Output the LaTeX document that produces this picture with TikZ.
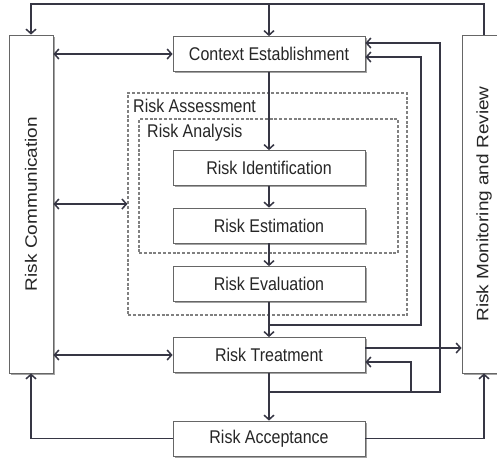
\documentclass[tikz,border=0pt]{standalone}
\usepackage{fontspec}
\setmainfont{Liberation Sans}
\usepackage{tikz}
\usetikzlibrary{arrows.meta, positioning, shadows, calc}
\usepackage{xcolor}
\definecolor{ink}{HTML}{363644}
\definecolor{frame}{HTML}{666666}
\definecolor{txt}{HTML}{262626}
\newcommand{\talltxt}[1]{\scalebox{1}[1.15]{#1}}
\newcommand{\sidetxt}[1]{\rotatebox{90}{\scalebox{1.15}[1]{#1}}}
\tikzset{
  box/.style={rectangle, draw=frame, line width=0.8pt, fill=white,
              minimum width=192pt, minimum height=35pt, inner sep=0pt,
              text=txt, font=\fontsize{16}{18}\selectfont,
              drop shadow={shadow xshift=1.6pt, shadow yshift=-1.6pt,
                           fill=black!45, opacity=0.8}},
  sidebox/.style={box, minimum width=44pt, minimum height=338pt,
                  font=\fontsize{16.5}{18}\selectfont},
  dashbox/.style={rectangle, draw=black!50, line width=1.1pt,
                  dash pattern=on 3pt off 1.8pt, inner sep=0pt},
  tag/.style={anchor=base west, inner sep=0pt, text=txt,
              font=\fontsize{16}{18}\selectfont},
  barb/.tip={Straight Barb[length=4.5pt, width=10pt, line width=1.5pt]},
  arr/.style={arrows={-barb}, line width=1.7pt, draw=ink},
  dblarr/.style={arrows={barb-barb}, line width=1.7pt, draw=ink},
}

\begin{document}
\begin{tikzpicture}[x=1pt, y=-1pt]   % pixel grid, y runs downwards

  \useasboundingbox (0,0) rectangle (497,459);

  %% -- dashed groups ---------------------------------------------------------
  \node[dashbox, minimum width=279pt, minimum height=222pt] (assess) at (267.5,204) {};
  \node[dashbox, minimum width=259pt, minimum height=134pt] (analysis) at (268.5,186) {};
  \node[tag] (assesstag)   at (133,112) {\talltxt{Risk Assessment}};
  \node[tag] (analysistag) at (147,137) {\talltxt{Risk Analysis}};

  %% -- side columns ----------------------------------------------------------
  \node[sidebox] (comm) at (31,204)  {\sidetxt{Risk Communication}};
  \node[sidebox] (mon)  at (484,204) {\sidetxt{Risk Monitoring and Review}};

  %% -- process steps ---------------------------------------------------------
  \node[box] (ctx)    at (269,54)    {\talltxt{Context Establishment}};
  \node[box] (ident)  at (269,168)   {\talltxt{Risk Identification}};
  \node[box] (estim)  at (269,225.5) {\talltxt{Risk Estimation}};
  \node[box] (evalu)  at (269,284)   {\talltxt{Risk Evaluation}};
  \node[box] (treat)  at (269,355)   {\talltxt{Risk Treatment}};
  \node[box] (accept) at (269,438.5) {\talltxt{Risk Acceptance}};

  %% -- junction points -------------------------------------------------------
  \coordinate (top) at (269,4);
  \coordinate (fb1) at (269,325);
  \coordinate (fb2) at (269,392);
  \coordinate (fb3) at (411,392);

  %% -- main flow -------------------------------------------------------------
  \draw[arr] (ctx)   -- (ident);
  \draw[arr] (ident) -- (estim);
  \draw[arr] (estim) -- (evalu);
  \draw[arr] (evalu) -- (treat);
  \draw[arr] (treat) -- (accept);

  %% -- communication links ---------------------------------------------------
  \draw[dblarr] (comm.east |- ctx.west)    -- (ctx.west);
  \draw[dblarr] (comm.east |- assess.west) -- (assess.west);
  \draw[dblarr] (comm.east |- treat.west)  -- (treat.west);

  %% -- monitoring loop over the top ------------------------------------------
  \draw[arr] (mon.north) |- (top) -| (comm.north);
  \draw[arr] (top) -- (ctx.north);

  %% -- feedback loops --------------------------------------------------------
  \draw[arr] (fb1) -- ++(152,0) |- ([yshift=-3pt]ctx.east);
  \draw[arr] (fb2) -- ++(171,0) |- ([yshift=11pt]ctx.east);
  \draw[arr] (fb3) |- ([yshift=-7pt]treat.east);
  \draw[arr] ([yshift=7pt]treat.east) -- ([yshift=7pt]treat.east -| mon.west);

  %% -- acceptance outputs ----------------------------------------------------
  \draw[arr] (accept.west) -| (comm.south);
  \draw[arr] (accept.east) -| (mon.south);

\end{tikzpicture}
\end{document}
